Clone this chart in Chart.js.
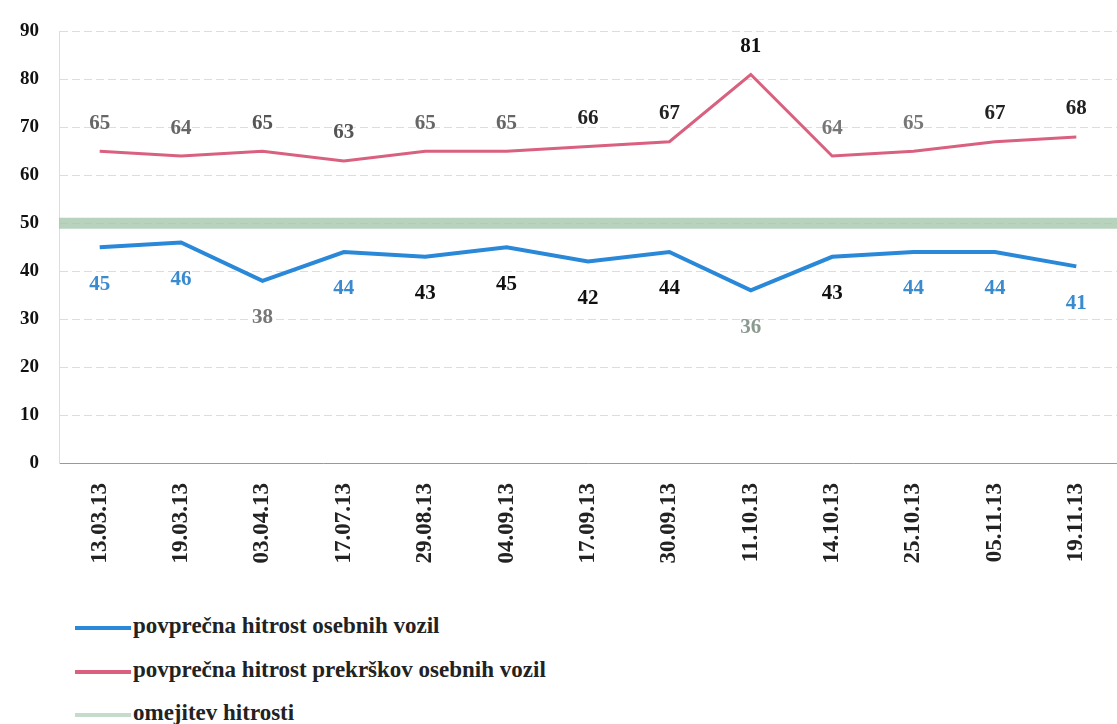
<!DOCTYPE html>
<html>
<head>
<meta charset="utf-8">
<script src="https://cdn.jsdelivr.net/npm/chart.js@4.4.0/dist/chart.umd.min.js"></script>
<style>
  body { margin: 0; background: #fff; }
  #wrap { position: relative; width: 1117px; height: 724px; }
  #chart { position: absolute; left: 0; top: 0; }
  .legend { position: absolute; left: 75px; font-family: 'Liberation Serif', serif;
            font-weight: bold; font-size: 23px; color: #222; }
  .legend span.sw { display: inline-block; width: 56px; height: 4px; vertical-align: middle; margin-right: 2px; }
</style>
</head>
<body>
<div id="wrap">
  <canvas id="chart" width="1117" height="600"></canvas>
  <div class="legend" style="top:613px"><span class="sw" style="background:#2a88d8"></span>povprečna hitrost osebnih vozil</div>
  <div class="legend" style="top:657px"><span class="sw" style="background:#d9607e"></span>povprečna hitrost prekrškov osebnih vozil</div>
  <div class="legend" style="top:700px"><span class="sw" style="background:#c5dccd"></span>omejitev hitrosti</div>
</div>
<script>
const serif = "'Liberation Serif', serif";

// dates of measurement
const dates = ['13.03.13', '19.03.13', '03.04.13', '17.07.13', '29.08.13', '04.09.13', '17.09.13',
               '30.09.13', '11.10.13', '14.10.13', '25.10.13', '05.11.13', '19.11.13'];
// average speed of cars
const avgSpeed = [45, 46, 38, 44, 43, 45, 42, 44, 36, 43, 44, 44, 41];
// average speed of speeding cars
const avgOffence = [65, 64, 65, 63, 65, 65, 66, 67, 81, 64, 65, 67, 68];
// speed limit
const speedLimit = [50, 50, 50, 50, 50, 50, 50, 50, 50, 50, 50, 50, 50];

const blueLabelColors = ['#3a8ad0', '#3a8ad0', '#777', '#3a8ad0', '#111', '#111', '#111',
                         '#111', '#8a9a90', '#111', '#3a8ad0', '#3a8ad0', '#3a8ad0'];
const redLabelColors = ['#666', '#666', '#555', '#555', '#666', '#666', '#222',
                        '#222', '#111', '#777', '#777', '#222', '#222'];

// draws the numbers next to the points
const valueLabels = {
  id: 'valueLabels',
  afterDatasetsDraw(chart) {
    const ctx = chart.ctx;
    ctx.save();
    ctx.font = 'bold 21px ' + serif;
    ctx.textAlign = 'center';
    ctx.textBaseline = 'middle';
    chart.getDatasetMeta(0).data.forEach((pt, i) => {
      ctx.fillStyle = blueLabelColors[i];
      ctx.fillText(avgSpeed[i], pt.x, pt.y + 37);
    });
    chart.getDatasetMeta(1).data.forEach((pt, i) => {
      ctx.fillStyle = redLabelColors[i];
      ctx.fillText(avgOffence[i], pt.x, pt.y - 28);
    });
    ctx.restore();
  }
};

new Chart(document.getElementById('chart').getContext('2d'), {
  type: 'line',
  data: {
    labels: dates,
    datasets: [
      { label: 'povprečna hitrost osebnih vozil', data: avgSpeed, borderColor: '#2a88d8',
        borderWidth: 4, pointRadius: 0, tension: 0, order: 1 },
      { label: 'povprečna hitrost prekrškov osebnih vozil', data: avgOffence, borderColor: '#d9607e',
        borderWidth: 3, pointRadius: 0, tension: 0, order: 2 },
      // limit line runs edge to edge, so it sits on an axis without offset
      { label: 'omejitev hitrosti', data: speedLimit, xAxisID: 'x2', borderColor: 'rgba(165,200,172,0.8)',
        borderWidth: 11, pointRadius: 0, tension: 0, order: 3 }
    ]
  },
  options: {
    responsive: false,
    animation: false,
    layout: { padding: { top: 0, right: 0, left: 0, bottom: 0 } },
    plugins: { legend: { display: false }, tooltip: { enabled: false } },
    scales: {
      x: {
        offset: true,
        grid: { display: false, offset: true },
        border: { color: '#999', dash: [6, 3] },
        afterFit(scale) { scale.height = 137; },
        ticks: {
          color: '#222', maxRotation: 90, minRotation: 90, padding: 12,
          font: { family: serif, size: 23, weight: 'bold' }
        }
      },
      x2: {
        type: 'category', display: false, offset: false
      },
      y: {
        min: 0, max: 90,
        ticks: {
          stepSize: 10, color: '#111', padding: 20,
          font: { family: serif, size: 19, weight: 'bold' }
        },
        grid: { color: '#ddd', drawTicks: false },
        border: { color: '#ddd', dash: [8, 4] }
      }
    }
  },
  plugins: [valueLabels]
});
</script>
</body>
</html>
